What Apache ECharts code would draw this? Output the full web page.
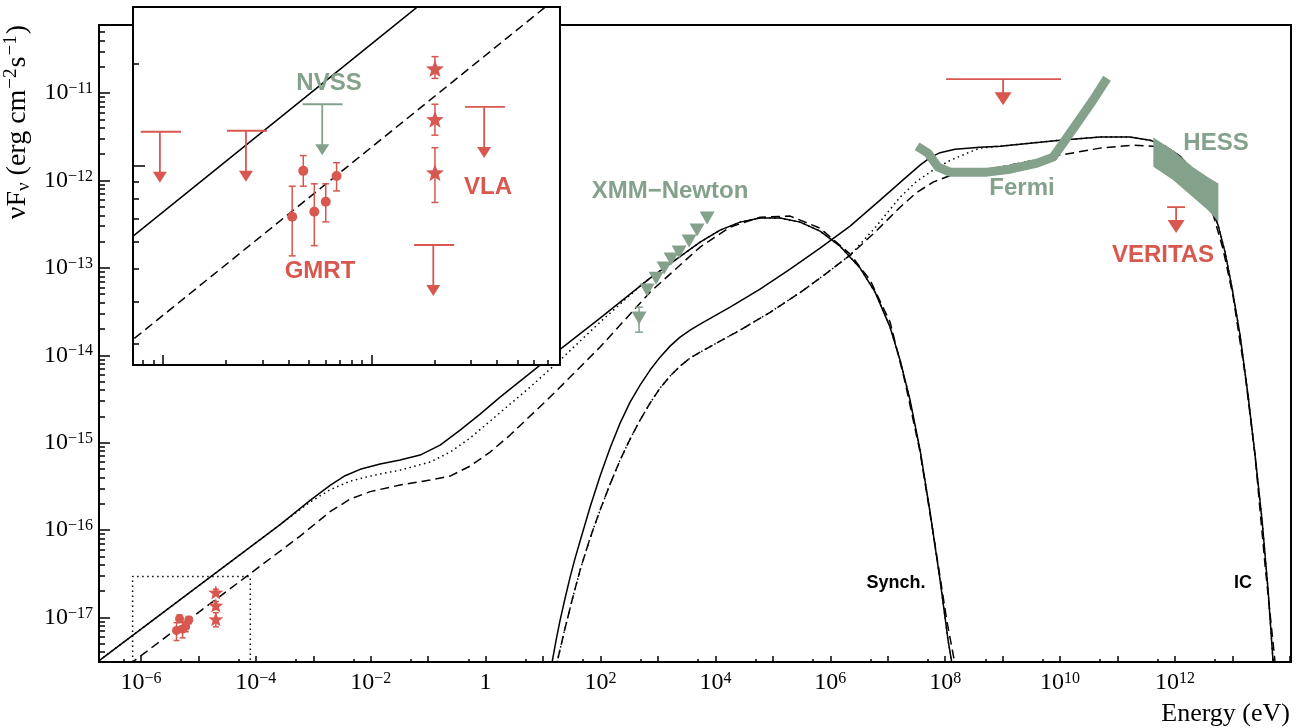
<!DOCTYPE html>
<html>
<head>
<meta charset="utf-8">
<script src="https://cdn.jsdelivr.net/npm/echarts@6/dist/echarts.min.js"></script>
<style>
html,body{margin:0;padding:0;background:#fff}
#chart{width:1296px;height:728px}
</style>
</head>
<body>
<div id="chart"></div>
<script>
// All coordinates are log10 values: energy in eV, flux in erg cm^-2 s^-1.

// Axis extents
const xRange = [-6.73, 14.02];
const yRange = [-17.51, -10.22];
const insetXRange = [-6.145, -4.096];
const insetYRange = [-17.585, -16.532];

// Tick labels (decade exponents)
const xLabelExps = [-6, -4, -2, 0, 2, 4, 6, 8, 10, 12];
const yLabelExps = [-17, -16, -15, -14, -13, -12, -11];

// Synchrotron component of the three models
const synchSolid = [[-6.727,-17.494],[-4.969,-16.625],[-3.577,-15.937],[-3.055,-15.660],[-2.707,-15.488],[-2.446,-15.378],[-2.184,-15.305],[-1.836,-15.245],[-1.488,-15.199],[-1.140,-15.142],[-0.792,-15.028],[-0.444,-14.856],[-0.096,-14.673],[0.252,-14.478],[1.123,-14.021],[1.993,-13.575],[2.863,-13.117],[3.734,-12.705],[4.082,-12.568],[4.430,-12.476],[4.778,-12.430],[5.126,-12.430],[5.474,-12.476],[5.822,-12.579],[6.170,-12.751],[6.519,-13.002],[6.780,-13.277],[7.041,-13.678],[7.215,-14.055],[7.389,-14.513],[7.563,-15.085],[7.737,-15.794],[7.911,-16.572],[8.050,-17.259],[8.137,-17.602]];
const synchDotted = [[-6.727,-17.494],[-4.969,-16.625],[-3.577,-15.937],[-3.055,-15.680],[-2.707,-15.538],[-2.359,-15.441],[-2.010,-15.382],[-1.488,-15.314],[-0.966,-15.222],[-0.618,-15.108],[-0.270,-14.947],[0.078,-14.753],[0.426,-14.559],[0.775,-14.364],[1.297,-14.055],[1.993,-13.620],[2.689,-13.208],[2.863,-13.117],[3.734,-12.705],[4.082,-12.568],[4.430,-12.476],[4.778,-12.430],[5.126,-12.430],[5.474,-12.476],[5.822,-12.579],[6.170,-12.751],[6.519,-13.002],[6.780,-13.277],[7.041,-13.678],[7.215,-14.055],[7.389,-14.513],[7.563,-15.085],[7.737,-15.794],[7.911,-16.572],[8.050,-17.259],[8.137,-17.602]];
const synchDashed = [[-6.400,-17.636],[-3.229,-16.069],[-2.707,-15.790],[-2.359,-15.646],[-2.010,-15.560],[-1.488,-15.485],[-0.966,-15.428],[-0.618,-15.382],[-0.270,-15.268],[0.078,-15.108],[0.426,-14.913],[1.123,-14.478],[1.993,-13.906],[2.863,-13.277],[3.734,-12.762],[4.256,-12.533],[4.778,-12.419],[5.300,-12.407],[5.822,-12.545],[6.345,-12.842],[6.693,-13.140],[7.041,-13.620],[7.302,-14.307],[7.563,-15.108],[7.824,-16.172],[8.033,-17.053],[8.190,-17.602]];

// Inverse-Compton component of the three models
const icSolid = [[1.123,-17.659],[1.158,-17.510],[1.227,-17.259],[1.297,-17.030],[1.384,-16.778],[1.471,-16.538],[1.558,-16.321],[1.645,-16.126],[1.819,-15.737],[1.993,-15.382],[2.167,-15.062],[2.341,-14.776],[2.515,-14.536],[2.689,-14.341],[2.863,-14.169],[3.037,-14.021],[3.211,-13.895],[3.385,-13.792],[3.560,-13.712],[3.734,-13.643],[4.256,-13.449],[4.778,-13.243],[5.300,-13.014],[5.822,-12.774],[6.345,-12.522],[6.867,-12.224],[7.302,-11.972],[7.563,-11.824],[7.737,-11.738],[7.911,-11.681],[8.172,-11.641],[8.607,-11.618],[8.956,-11.607],[9.478,-11.572],[10.000,-11.538],[10.696,-11.503],[11.218,-11.503],[11.566,-11.538],[11.828,-11.607],[12.089,-11.721],[12.263,-11.847],[12.437,-12.018],[12.611,-12.259],[12.750,-12.510],[12.872,-12.819],[12.994,-13.231],[13.133,-13.769],[13.272,-14.455],[13.394,-15.142],[13.516,-15.885],[13.621,-16.686],[13.708,-17.510],[13.742,-17.831]];
const icDashed = [[1.210,-17.625],[1.245,-17.510],[1.314,-17.316],[1.384,-17.121],[1.506,-16.801],[1.645,-16.458],[1.819,-16.091],[1.993,-15.771],[2.167,-15.474],[2.341,-15.199],[2.515,-14.959],[2.689,-14.742],[2.863,-14.547],[3.037,-14.375],[3.211,-14.238],[3.385,-14.124],[3.560,-14.032],[3.734,-13.964],[4.430,-13.712],[4.952,-13.508],[5.474,-13.283],[5.909,-13.074],[6.345,-12.854],[6.780,-12.590],[7.215,-12.305],[7.502,-12.138],[7.790,-12.018],[8.085,-11.942],[8.381,-11.904],[8.956,-11.847],[10.000,-11.709],[10.696,-11.629],[11.271,-11.595],[11.619,-11.607],[11.967,-11.687],[12.263,-11.881],[12.489,-12.110],[12.663,-12.385],[12.837,-12.785],[13.011,-13.323],[13.220,-14.215],[13.394,-15.142],[13.568,-16.400],[13.742,-17.510],[13.777,-17.831]];
const icDotted = [[1.210,-17.625],[1.245,-17.510],[1.314,-17.316],[1.384,-17.121],[1.506,-16.801],[1.645,-16.458],[1.819,-16.091],[1.993,-15.771],[2.167,-15.474],[2.341,-15.199],[2.515,-14.959],[2.689,-14.742],[2.863,-14.547],[3.037,-14.375],[3.211,-14.238],[3.385,-14.124],[3.560,-14.032],[3.734,-13.964],[4.430,-13.712],[4.952,-13.508],[5.474,-13.283],[5.909,-13.074],[6.345,-12.854],[6.780,-12.540],[7.215,-12.190],[7.502,-12.010],[7.790,-11.881],[8.085,-11.770],[8.381,-11.687],[8.607,-11.629],[8.956,-11.607],[9.478,-11.572],[10.000,-11.538],[10.696,-11.503],[11.218,-11.503],[11.566,-11.538],[11.828,-11.607],[12.089,-11.721],[12.263,-11.847],[12.437,-12.018],[12.611,-12.259],[12.750,-12.510],[12.872,-12.819],[12.994,-13.231],[13.133,-13.769],[13.272,-14.455],[13.394,-15.142],[13.516,-15.885],[13.621,-16.686],[13.708,-17.510],[13.742,-17.831]];

// Fermi-LAT sensitivity band
const fermiBand = [[7.511,-11.607],[7.702,-11.687],[7.876,-11.847],[8.085,-11.904],[8.381,-11.904],[8.729,-11.904],[9.130,-11.870],[9.600,-11.801],[9.878,-11.732],[10.052,-11.572],[10.296,-11.343],[10.574,-11.080],[10.818,-10.829]];

// H.E.S.S. butterfly
const hessLogE = [11.624, 11.967, 12.315, 12.576, 12.756];
const hessLogFHi = [-11.507, -11.652, -11.847, -11.961, -12.033];
const hessLogFLo = [-11.843, -11.995, -12.190, -12.339, -12.473];

// XMM-Newton
const xmmLogE = [2.672, 2.811, 2.968, 3.107, 3.229, 3.368, 3.542, 3.681, 3.856];
const xmmLogF = [-13.574, -13.254, -13.117, -13.002, -12.899, -12.819, -12.693, -12.567, -12.430];
const xmmErr = [[2.672, -13.735, -13.449]];

// GMRT
const gmrtLogE = [-5.381, -5.328, -5.275, -5.220, -5.168];
const gmrtLogF = [-17.149, -17.014, -17.134, -17.105, -17.029];
const gmrtLogFLo = [-17.264, -17.059, -17.234, -17.164, -17.073];
const gmrtLogFHi = [-17.059, -16.969, -17.052, -17.052, -16.990];

// VLA
const vlaLogE = [-4.696, -4.696, -4.696];
const vlaLogF = [-16.713, -16.862, -17.019];
const vlaLogFLo = [-16.742, -16.909, -17.107];
const vlaLogFHi = [-16.678, -16.818, -16.946];

// Upper limits: [E low, E centre, E high, flux]
const radioUL = [[-6.108,-6.016,-5.915,-16.899],[-5.694,-5.603,-5.502,-16.896],[-4.552,-4.460,-4.360,-16.826],[-4.796,-4.704,-4.604,-17.232]];
const nvssUL = [[-5.331,-5.237,-5.139,-16.818]];
const fermiUL = [[8.016,9.008,10.017,-10.840]];
const veritasUL = [[11.863,12.020,12.176,-12.304]];

const RED = '#d8574f';
const GREEN = '#84a18c';
const SERIF = '"Liberation Serif","Times New Roman",serif';
const SANS = '"Liberation Sans",Arial,Helvetica,sans-serif';

function logMinorTicks(range, mults) {
  const out = [];
  for (let n = Math.floor(range[0]) - 1; n <= Math.ceil(range[1]); n++) {
    mults.forEach(m => {
      const v = n + Math.log10(m);
      if (v > range[0] + 0.002 && v < range[1] - 0.002) out.push(v);
    });
  }
  return out;
}
function decades(range) {
  const out = [];
  for (let n = Math.ceil(range[0]); n <= Math.floor(range[1]); n++) out.push(n);
  return out;
}
const M29 = [2,3,4,5,6,7,8,9];

const expRich = {
  b: {fontSize: 24, fontFamily: SERIF, color: '#000', lineHeight: 24, verticalAlign: 'bottom'},
  s: {fontSize: 16, fontFamily: SERIF, color: '#000', lineHeight: 16, verticalAlign: 'top', padding: [0, 0, 10, 0]}
};
function expLabel(v) {
  const n = Math.round(v);
  if (n === 0) return '{b|1}';
  return '{b|10}{s|' + String(n).replace('-', '\u2212') + '}';
}

function starPath() {
  let d = '';
  for (let i = 0; i < 10; i++) {
    const r = i % 2 === 0 ? 50 : 21;
    const a = -Math.PI / 2 + i * Math.PI / 5;
    d += (i ? 'L' : 'M') + (50 + r * Math.cos(a)).toFixed(2) + ' ' + (52 + r * Math.sin(a)).toFixed(2) + ' ';
  }
  return 'path://' + d + 'Z';
}
const STAR = starPath();

function lineSeries(data, type, xi, z) {
  return {
    type: 'line', data, xAxisIndex: xi, yAxisIndex: xi, z: z || 3,
    showSymbol: false, symbol: 'none', silent: true, clip: true, smooth: false,
    lineStyle: {color: '#000', width: 1.5, type, join: 'round'}
  };
}

function errorBars(xs, lo, hi, color, xi, z, capHalf) {
  return {
    type: 'custom', xAxisIndex: xi, yAxisIndex: xi, z, silent: true,
    data: xs.map((x, i) => [x, lo[i], hi[i]]),
    renderItem(params, api) {
      const a = api.coord([api.value(0), api.value(1)]);
      const b = api.coord([api.value(0), api.value(2)]);
      const st = {stroke: color, lineWidth: 1.5};
      return {type: 'group', children: [
        {type: 'line', shape: {x1: a[0], y1: a[1], x2: b[0], y2: b[1]}, style: st},
        {type: 'line', shape: {x1: a[0]-capHalf, y1: a[1], x2: a[0]+capHalf, y2: a[1]}, style: st},
        {type: 'line', shape: {x1: b[0]-capHalf, y1: b[1], x2: b[0]+capHalf, y2: b[1]}, style: st}
      ]};
    }
  };
}

function upperLimits(list, color, xi, z, stem, headH, headW) {
  return {
    type: 'custom', xAxisIndex: xi, yAxisIndex: xi, z, silent: true,
    data: list,
    renderItem(params, api) {
      const y = api.value(3);
      const l = api.coord([api.value(0), y]);
      const c = api.coord([api.value(1), y]);
      const r = api.coord([api.value(2), y]);
      const tip = c[1] + stem;
      const st = {stroke: color, lineWidth: 1.8};
      return {type: 'group', children: [
        {type: 'line', shape: {x1: l[0], y1: l[1], x2: r[0], y2: r[1]}, style: st},
        {type: 'line', shape: {x1: c[0], y1: c[1], x2: c[0], y2: tip - headH + 1}, style: st},
        {type: 'polygon', shape: {points: [[c[0]-headW/2, tip-headH], [c[0]+headW/2, tip-headH], [c[0], tip]]}, style: {fill: color}}
      ]};
    }
  };
}

const hessSeries = {
  type: 'custom', xAxisIndex: 0, yAxisIndex: 0, z: 4, silent: true,
  data: hessLogE.map((e, i) => [e, hessLogFLo[i], hessLogFHi[i]]),
  renderItem(params, api) {
    if (params.dataIndex !== 0) return null;
    const pts = [];
    hessLogE.forEach((e, i) => pts.push(api.coord([e, hessLogFHi[i]])));
    for (let i = hessLogE.length - 1; i >= 0; i--) pts.push(api.coord([hessLogE[i], hessLogFLo[i]]));
    return {type: 'polygon', shape: {points: pts}, style: {fill: GREEN}};
  }
};

function axisPair(kind, gridIndex, range, majors, minors, majLen, minLen, labels, z) {
  const main = {
    type: 'value', gridIndex, min: range[0], max: range[1], z,
    axisLine: {show: true, onZero: false, lineStyle: {color: '#000', width: 2}},
    axisTick: {show: true, inside: true, length: majLen, customValues: majors, lineStyle: {color: '#000', width: 1.5}},
    splitLine: {show: false},
    axisLabel: labels ? {
      show: true, customValues: labels, formatter: expLabel, rich: expRich,
      margin: kind === 'x' ? 9 : 6, fontFamily: SERIF, color: '#000',
      showMinLabel: true, showMaxLabel: true, hideOverlap: false
    } : {show: false}
  };
  const minor = {
    type: 'value', gridIndex, min: range[0], max: range[1], z,
    axisLine: {show: false, onZero: false},
    axisTick: {show: true, inside: true, length: minLen, customValues: minors, lineStyle: {color: '#000', width: 1.5}},
    splitLine: {show: false},
    axisLabel: {show: false}
  };
  if (kind === 'x') { main.position = 'bottom'; minor.position = 'bottom'; }
  else { main.position = 'left'; minor.position = 'left'; }
  return [main, minor];
}

const xAxes = [
  ...axisPair('x', 0, xRange, decades(xRange), logMinorTicks(xRange, [5]), 6, 3, xLabelExps, 0),
  ...axisPair('x', 1, insetXRange, decades(insetXRange), logMinorTicks(insetXRange, M29), 10, 5, null, 11)
];
const yAxes = [
  ...axisPair('y', 0, yRange, decades(yRange), logMinorTicks(yRange, M29), 11, 6, yLabelExps, 0),
  ...axisPair('y', 1, insetYRange, decades(insetYRange), logMinorTicks(insetYRange, M29), 12, 6, null, 11)
];

const boxOutline = [
  [insetXRange[0], yRange[0]], [insetXRange[0], insetYRange[1]],
  [insetXRange[1], insetYRange[1]], [insetXRange[1], yRange[0]]
];

function scatter(xs, ys, symbol, size, color, xi, z, rotate) {
  return {
    type: 'scatter', xAxisIndex: xi, yAxisIndex: xi, z, silent: true,
    data: xs.map((x, i) => [x, ys[i]]),
    symbol, symbolSize: size, symbolRotate: rotate || 0, symbolKeepAspect: true,
    itemStyle: {color, opacity: 1}
  };
}

const series = [
  // main panel: models
  lineSeries(synchDashed, [9, 5], 0),
  lineSeries(synchDotted, [1.5, 3.5], 0),
  lineSeries(synchSolid, 'solid', 0),
  lineSeries(icDashed, [9, 5], 0),
  lineSeries(icDotted, [1.5, 3.5], 0),
  lineSeries(icSolid, 'solid', 0),
  // zoom box
  {type: 'line', data: boxOutline, xAxisIndex: 0, yAxisIndex: 0, z: 3, showSymbol: false, symbol: 'none', silent: true,
   lineStyle: {color: '#000', width: 1.5, type: [1.5, 3.5]}},
  // Fermi band and HESS butterfly
  {type: 'line', data: fermiBand, xAxisIndex: 0, yAxisIndex: 0, z: 4, showSymbol: false, symbol: 'none', silent: true,
   lineStyle: {color: GREEN, width: 9, cap: 'butt', join: 'round'}},
  hessSeries,
  // XMM-Newton
  errorBars([xmmErr[0][0]], [xmmErr[0][1]], [xmmErr[0][2]], GREEN, 0, 5, 4),
  scatter(xmmLogE, xmmLogF, 'triangle', [15, 13], GREEN, 0, 6, 180),
  // gamma-ray upper limits
  upperLimits(fermiUL, RED, 0, 6, 26, 13, 17),
  upperLimits(veritasUL, RED, 0, 6, 26, 13, 17),
  // radio points in the main panel
  errorBars(gmrtLogE, gmrtLogFLo, gmrtLogFHi, RED, 0, 5, 3),
  errorBars(vlaLogE, vlaLogFLo, vlaLogFHi, RED, 0, 5, 3),
  scatter(gmrtLogE, gmrtLogF, 'circle', 9, RED, 0, 6),
  scatter(vlaLogE, vlaLogF, STAR, 15, RED, 0, 6),

  // inset panel
  lineSeries(synchDashed, [9, 5], 2, 12),
  lineSeries(synchSolid, 'solid', 2, 12),
  errorBars(gmrtLogE, gmrtLogFLo, gmrtLogFHi, RED, 2, 13, 3.5),
  errorBars(vlaLogE, vlaLogFLo, vlaLogFHi, RED, 2, 13, 3.5),
  scatter(gmrtLogE, gmrtLogF, 'circle', 10, RED, 2, 14),
  scatter(vlaLogE, vlaLogF, STAR, 18, RED, 2, 14),
  upperLimits(radioUL, RED, 2, 14, 51, 11, 14),
  upperLimits(nvssUL, GREEN, 2, 14, 51, 11, 14)
];

function tag(text, x, y, color, size) {
  return {type: 'text', x, y, z: 20, silent: true,
    style: {text, fill: color, font: 'bold ' + size + 'px ' + SANS, align: 'center', verticalAlign: 'middle'}};
}

const option = {
  animation: false,
  backgroundColor: '#fff',
  grid: [
    {left: 99, top: 25, width: 1192, height: 637, show: true, borderColor: '#000', borderWidth: 2, backgroundColor: 'transparent', z: 0},
    {left: 133, top: 7, width: 427, height: 358, show: true, borderColor: '#000', borderWidth: 2, backgroundColor: '#fff', z: 10}
  ],
  xAxis: xAxes,
  yAxis: yAxes,
  series,
  graphic: [
    tag('NVSS', 329, 83, GREEN, 24),
    tag('GMRT', 320, 271, RED, 24),
    tag('VLA', 488, 187, RED, 24),
    tag('XMM\u2212Newton', 670, 191, GREEN, 24),
    tag('Fermi', 1022, 188, GREEN, 24),
    tag('HESS', 1216, 143, GREEN, 24),
    tag('VERITAS', 1163, 255, RED, 24),
    tag('Synch.', 896, 583, '#000', 18),
    tag('IC', 1243, 583, '#000', 18),
    {type: 'text', x: 1290, y: 714, z: 20, silent: true,
     style: {text: 'Energy (eV)', fill: '#000', font: '26px ' + SERIF, align: 'right', verticalAlign: 'middle'}},
    {type: 'text', x: 18, y: 25, rotation: Math.PI / 2, z: 20, silent: true,
     style: {
       text: '{t|\u03bdF}{sub|\u03bd}{t| (erg cm}{sup|\u22122}{t|s}{sup|\u22121}{t|)}',
       align: 'right', verticalAlign: 'middle',
       rich: {
         t: {fontSize: 28, fontFamily: SERIF, fill: '#000', lineHeight: 32, verticalAlign: 'middle'},
         sub: {fontSize: 19, fontFamily: SERIF, fill: '#000', lineHeight: 32, verticalAlign: 'bottom'},
         sup: {fontSize: 19, fontFamily: SERIF, fill: '#000', lineHeight: 19, verticalAlign: 'top', padding: [0, 1, 0, 1]}
       }
     }}
  ]
};

const chart = echarts.init(document.getElementById('chart'), null, {renderer: 'canvas'});
chart.setOption(option);
</script>
</body>
</html>
